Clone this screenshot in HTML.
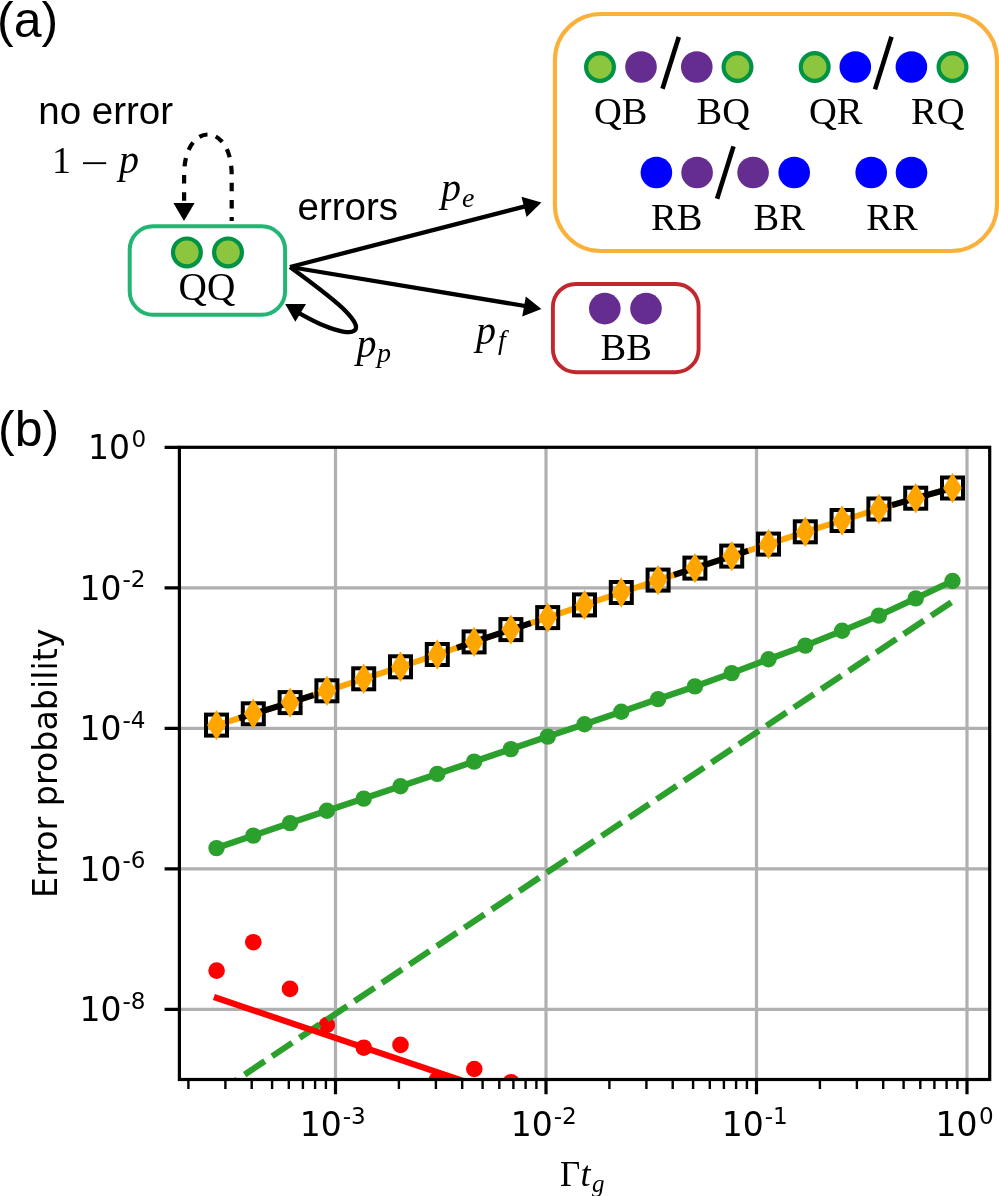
<!DOCTYPE html>
<html lang="en"><head><meta charset="utf-8"><title>Figure</title>
<style>html,body{margin:0;padding:0;background:#fff}svg{display:block}</style>
</head><body>
<svg width="999" height="1196" viewBox="0 0 999 1196">
<rect width="999" height="1196" fill="#fff"/>
<g id="panelA">
<text x="-3" y="37" font-family="Liberation Sans, Arial, sans-serif" font-size="50" fill="#000">(a)</text>
<text x="38.3" y="124.4" font-family="Liberation Sans, Arial, sans-serif" font-size="38.5" fill="#000">no error</text>
<text x="297.5" y="220" font-family="Liberation Sans, Arial, sans-serif" font-size="38.5" fill="#000">errors</text>
<text x="52" y="172.6" font-family="Liberation Serif, serif" font-size="38" fill="#000">1</text>
<text transform="translate(80.4,175.6) scale(1.31,1)" font-family="Liberation Serif, serif" font-size="38" fill="#000">−</text>
<text x="119" y="172.6" font-family="Liberation Serif, serif" font-style="italic" font-size="40" fill="#000">p</text>
<rect x="129.7" y="226.2" width="155.4" height="88.5" rx="23.5" ry="23.5" fill="none" stroke="#22b573" stroke-width="4"/>
<rect x="554.9" y="14.05" width="442.1" height="237" rx="46" ry="46" fill="none" stroke="#fbb03b" stroke-width="4.1"/>
<rect x="552.9" y="284" width="145.7" height="88.2" rx="23" ry="23" fill="none" stroke="#c1272d" stroke-width="3.9"/>
<circle cx="186.9" cy="252.4" r="13.9" fill="#8cc63f" stroke="#009245" stroke-width="4.2"/>
<circle cx="228" cy="252.4" r="13.9" fill="#8cc63f" stroke="#009245" stroke-width="4.2"/>
<text x="178.6" y="300.3" font-family="Liberation Serif, Times New Roman, serif" font-size="39.3" fill="#000">QQ</text>
<circle cx="600" cy="67" r="13.9" fill="#8cc63f" stroke="#009245" stroke-width="4.2"/>
<circle cx="641" cy="67" r="15.8" fill="#662d91"/>
<line x1="662.5" y1="88.8" x2="678.8" y2="37" stroke="#000" stroke-width="4.6"/>
<circle cx="696.8" cy="67" r="15.8" fill="#662d91"/>
<circle cx="737.5" cy="67" r="13.9" fill="#8cc63f" stroke="#009245" stroke-width="4.2"/>
<text x="594" y="124.4" font-family="Liberation Serif, Times New Roman, serif" font-size="38.5" fill="#000">QB</text>
<text x="696.5" y="124.4" font-family="Liberation Serif, Times New Roman, serif" font-size="38.5" fill="#000">BQ</text>
<circle cx="814.7" cy="67" r="13.9" fill="#8cc63f" stroke="#009245" stroke-width="4.2"/>
<circle cx="855.3" cy="67" r="15.8" fill="#0000ff"/>
<line x1="875" y1="89.4" x2="891.5" y2="36.7" stroke="#000" stroke-width="4.6"/>
<circle cx="911.4" cy="67" r="15.8" fill="#0000ff"/>
<circle cx="952.5" cy="67" r="13.9" fill="#8cc63f" stroke="#009245" stroke-width="4.2"/>
<text x="809" y="124.4" font-family="Liberation Serif, Times New Roman, serif" font-size="38.5" fill="#000">QR</text>
<text x="911" y="124.4" font-family="Liberation Serif, Times New Roman, serif" font-size="38.5" fill="#000">RQ</text>
<circle cx="656.4" cy="172.5" r="15.8" fill="#0000ff"/>
<circle cx="697.1" cy="172.5" r="15.8" fill="#662d91"/>
<line x1="717.1" y1="198.7" x2="733.5" y2="146.4" stroke="#000" stroke-width="4.6"/>
<circle cx="753.1" cy="172.5" r="15.8" fill="#662d91"/>
<circle cx="794.2" cy="172.5" r="15.8" fill="#0000ff"/>
<text x="651" y="229.5" font-family="Liberation Serif, Times New Roman, serif" font-size="38.5" fill="#000">RB</text>
<text x="753.5" y="229.5" font-family="Liberation Serif, Times New Roman, serif" font-size="38.5" fill="#000">BR</text>
<circle cx="871.2" cy="172.5" r="15.8" fill="#0000ff"/>
<circle cx="911.5" cy="172.5" r="15.8" fill="#0000ff"/>
<text x="866.3" y="229.5" font-family="Liberation Serif, Times New Roman, serif" font-size="38.5" fill="#000">RR</text>
<circle cx="604.8" cy="308.6" r="15.8" fill="#662d91"/>
<circle cx="646" cy="308.6" r="15.8" fill="#662d91"/>
<text x="600.5" y="360.2" font-family="Liberation Serif, Times New Roman, serif" font-size="38.5" fill="#000">BB</text>
<path d="M231.7,221 L231.7,175 C231.7,121 184.1,121 184.1,175 L184.1,205" fill="none" stroke="#000" stroke-width="4.2" stroke-dasharray="8.5 8.6" stroke-dashoffset="4.5"/>
<polygon points="173.4,202.9 194.6,202.9 184,221" fill="#000"/>
<line x1="290" y1="267" x2="528" y2="205.6" stroke="#000" stroke-width="4.3"/>
<polygon points="541.4,202.6 521.5,196.8 526.6,217" fill="#000"/>
<line x1="290" y1="267" x2="528" y2="306.5" stroke="#000" stroke-width="4.3"/>
<polygon points="541.4,309.1 525.8,296.5 522.2,316.6" fill="#000"/>
<path d="M290,267 C312,283 337.5,302.5 346,311.5 C353.5,319.5 358.5,326.5 354.8,330.3 C350.8,334.3 337,331 325,326 C316,322.5 308,318 299,313" fill="none" stroke="#000" stroke-width="4.3"/>
<polygon points="285.2,304 306,304 295.3,321.7" fill="#000"/>
<text x="441" y="201" font-family="Liberation Serif, serif" font-style="italic" font-size="40" fill="#000">p</text>
<text x="462" y="206.5" font-family="Liberation Serif, serif" font-style="italic" font-size="28" fill="#000">e</text>
<text x="356.5" y="357" font-family="Liberation Serif, serif" font-style="italic" font-size="40" fill="#000">p</text>
<text x="377" y="361.7" font-family="Liberation Serif, serif" font-style="italic" font-size="28" fill="#000">p</text>
<text x="476" y="344.4" font-family="Liberation Serif, serif" font-style="italic" font-size="40" fill="#000">p</text>
<text x="498" y="349" font-family="Liberation Serif, serif" font-style="italic" font-size="28" fill="#000">f</text>
</g>
<g id="panelB">
<text x="-2" y="446" font-family="Liberation Sans, Arial, sans-serif" font-size="50" fill="#000">(b)</text>
<clipPath id="ax"><rect x="179.4" y="447.3" width="810.3000000000001" height="632.2"/></clipPath>
<path d="M335.5,447.3 V1079.5 M546.0,447.3 V1079.5 M756.5,447.3 V1079.5 M967.0,447.3 V1079.5 M179.4,587.9 H989.7 M179.4,728.4 H989.7 M179.4,868.9 H989.7 M179.4,1009.4 H989.7" stroke="#b0b0b0" stroke-width="3.2" fill="none"/>
<g clip-path="url(#ax)">
<polyline points="216.5,725.1 253.3,713.8 290.1,702.6 326.9,690.8 363.7,678.8 400.5,666.8 437.3,654.5 474.1,641.9 510.9,629.6 547.7,617.6 584.5,604.9 621.3,592.5 658.1,580.1 694.9,568.1 731.7,556.1 768.5,544.1 805.3,531.8 842.1,520.5 878.9,509.0 915.7,498.2 952.5,488.0" fill="none" stroke="#ffa500" stroke-width="6"/>
<polyline points="216.5,725.1 253.3,713.8 290.1,702.6 326.9,690.8 363.7,678.8 400.5,666.8 437.3,654.5 474.1,641.9 510.9,629.6 547.7,617.6 584.5,604.9 621.3,592.5 658.1,580.1 694.9,568.1 731.7,556.1 768.5,544.1 805.3,531.8 842.1,520.5 878.9,509.0 915.7,498.2 952.5,488.0" fill="none" stroke="#000" stroke-width="6" stroke-dasharray="78 151" stroke-dashoffset="-23.5"/>
<rect x="206.0" y="714.6" width="21" height="21" fill="none" stroke="#000" stroke-width="4"/>
<rect x="242.8" y="703.3" width="21" height="21" fill="none" stroke="#000" stroke-width="4"/>
<rect x="279.6" y="692.1" width="21" height="21" fill="none" stroke="#000" stroke-width="4"/>
<rect x="316.4" y="680.3" width="21" height="21" fill="none" stroke="#000" stroke-width="4"/>
<rect x="353.2" y="668.3" width="21" height="21" fill="none" stroke="#000" stroke-width="4"/>
<rect x="390.0" y="656.3" width="21" height="21" fill="none" stroke="#000" stroke-width="4"/>
<rect x="426.8" y="644.0" width="21" height="21" fill="none" stroke="#000" stroke-width="4"/>
<rect x="463.6" y="631.4" width="21" height="21" fill="none" stroke="#000" stroke-width="4"/>
<rect x="500.4" y="619.1" width="21" height="21" fill="none" stroke="#000" stroke-width="4"/>
<rect x="537.2" y="607.1" width="21" height="21" fill="none" stroke="#000" stroke-width="4"/>
<rect x="574.0" y="594.4" width="21" height="21" fill="none" stroke="#000" stroke-width="4"/>
<rect x="610.8" y="582.0" width="21" height="21" fill="none" stroke="#000" stroke-width="4"/>
<rect x="647.6" y="569.6" width="21" height="21" fill="none" stroke="#000" stroke-width="4"/>
<rect x="684.4" y="557.6" width="21" height="21" fill="none" stroke="#000" stroke-width="4"/>
<rect x="721.2" y="545.6" width="21" height="21" fill="none" stroke="#000" stroke-width="4"/>
<rect x="758.0" y="533.6" width="21" height="21" fill="none" stroke="#000" stroke-width="4"/>
<rect x="794.8" y="521.3" width="21" height="21" fill="none" stroke="#000" stroke-width="4"/>
<rect x="831.6" y="510.0" width="21" height="21" fill="none" stroke="#000" stroke-width="4"/>
<rect x="868.4" y="498.5" width="21" height="21" fill="none" stroke="#000" stroke-width="4"/>
<rect x="905.2" y="487.7" width="21" height="21" fill="none" stroke="#000" stroke-width="4"/>
<rect x="942.0" y="477.5" width="21" height="21" fill="none" stroke="#000" stroke-width="4"/>
<polygon points="216.5,709.9 225.9,725.1 216.5,740.3 207.1,725.1" fill="#ffa500"/>
<polygon points="253.3,698.6 262.7,713.8 253.3,729.0 243.9,713.8" fill="#ffa500"/>
<polygon points="290.1,687.4 299.5,702.6 290.1,717.8 280.7,702.6" fill="#ffa500"/>
<polygon points="326.9,675.6 336.3,690.8 326.9,706.0 317.5,690.8" fill="#ffa500"/>
<polygon points="363.7,663.6 373.1,678.8 363.7,694.0 354.3,678.8" fill="#ffa500"/>
<polygon points="400.5,651.6 409.9,666.8 400.5,682.0 391.1,666.8" fill="#ffa500"/>
<polygon points="437.3,639.3 446.7,654.5 437.3,669.7 427.9,654.5" fill="#ffa500"/>
<polygon points="474.1,626.7 483.5,641.9 474.1,657.1 464.7,641.9" fill="#ffa500"/>
<polygon points="510.9,614.4 520.3,629.6 510.9,644.8 501.5,629.6" fill="#ffa500"/>
<polygon points="547.7,602.4 557.1,617.6 547.7,632.8 538.3,617.6" fill="#ffa500"/>
<polygon points="584.5,589.7 593.9,604.9 584.5,620.1 575.1,604.9" fill="#ffa500"/>
<polygon points="621.3,577.3 630.7,592.5 621.3,607.7 611.9,592.5" fill="#ffa500"/>
<polygon points="658.1,564.9 667.5,580.1 658.1,595.3 648.7,580.1" fill="#ffa500"/>
<polygon points="694.9,552.9 704.3,568.1 694.9,583.3 685.5,568.1" fill="#ffa500"/>
<polygon points="731.7,540.9 741.1,556.1 731.7,571.3 722.3,556.1" fill="#ffa500"/>
<polygon points="768.5,528.9 777.9,544.1 768.5,559.3 759.1,544.1" fill="#ffa500"/>
<polygon points="805.3,516.6 814.7,531.8 805.3,547.0 795.9,531.8" fill="#ffa500"/>
<polygon points="842.1,505.3 851.5,520.5 842.1,535.7 832.7,520.5" fill="#ffa500"/>
<polygon points="878.9,493.8 888.3,509.0 878.9,524.2 869.5,509.0" fill="#ffa500"/>
<polygon points="915.7,483.0 925.1,498.2 915.7,513.4 906.3,498.2" fill="#ffa500"/>
<polygon points="952.5,472.8 961.9,488.0 952.5,503.2 943.1,488.0" fill="#ffa500"/>
<polyline points="216.5,848.1 253.3,835.6 290.1,823.1 326.9,810.8 363.7,798.6 400.5,786.3 437.3,773.9 474.1,761.6 510.9,749.1 547.7,736.6 584.5,724.3 621.3,711.8 658.1,699.1 694.9,686.4 731.7,673.1 768.5,659.3 805.3,645.6 842.1,630.8 878.9,615.6 915.7,598.4 952.5,581.0" fill="none" stroke="#2ca02c" stroke-width="6.3"/>
<circle cx="216.5" cy="848.1" r="8.2" fill="#2ca02c"/>
<circle cx="253.3" cy="835.6" r="8.2" fill="#2ca02c"/>
<circle cx="290.1" cy="823.1" r="8.2" fill="#2ca02c"/>
<circle cx="326.9" cy="810.8" r="8.2" fill="#2ca02c"/>
<circle cx="363.7" cy="798.6" r="8.2" fill="#2ca02c"/>
<circle cx="400.5" cy="786.3" r="8.2" fill="#2ca02c"/>
<circle cx="437.3" cy="773.9" r="8.2" fill="#2ca02c"/>
<circle cx="474.1" cy="761.6" r="8.2" fill="#2ca02c"/>
<circle cx="510.9" cy="749.1" r="8.2" fill="#2ca02c"/>
<circle cx="547.7" cy="736.6" r="8.2" fill="#2ca02c"/>
<circle cx="584.5" cy="724.3" r="8.2" fill="#2ca02c"/>
<circle cx="621.3" cy="711.8" r="8.2" fill="#2ca02c"/>
<circle cx="658.1" cy="699.1" r="8.2" fill="#2ca02c"/>
<circle cx="694.9" cy="686.4" r="8.2" fill="#2ca02c"/>
<circle cx="731.7" cy="673.1" r="8.2" fill="#2ca02c"/>
<circle cx="768.5" cy="659.3" r="8.2" fill="#2ca02c"/>
<circle cx="805.3" cy="645.6" r="8.2" fill="#2ca02c"/>
<circle cx="842.1" cy="630.8" r="8.2" fill="#2ca02c"/>
<circle cx="878.9" cy="615.6" r="8.2" fill="#2ca02c"/>
<circle cx="915.7" cy="598.4" r="8.2" fill="#2ca02c"/>
<circle cx="952.5" cy="581.0" r="8.2" fill="#2ca02c"/>
<circle cx="216.6" cy="970.6" r="8.3" fill="#ff0000"/>
<circle cx="253.3" cy="942.2" r="8.3" fill="#ff0000"/>
<circle cx="290.0" cy="988.9" r="8.3" fill="#ff0000"/>
<circle cx="326.9" cy="1025.0" r="8.3" fill="#ff0000"/>
<circle cx="363.8" cy="1047.7" r="8.3" fill="#ff0000"/>
<circle cx="400.5" cy="1044.9" r="8.3" fill="#ff0000"/>
<circle cx="436.8" cy="1080.0" r="8.3" fill="#ff0000"/>
<circle cx="474.3" cy="1069.0" r="8.3" fill="#ff0000"/>
<circle cx="511.1" cy="1082.2" r="8.3" fill="#ff0000"/>
<line x1="951.3" y1="602.3" x2="216.5" y2="1093.4" stroke="#2ca02c" stroke-width="6.2" stroke-dasharray="24.2 8.83"/>
<line x1="213.9" y1="997.05" x2="476" y2="1085.25" stroke="#ff0000" stroke-width="6.2"/>
</g>
<path d="M335.5,1079.5 v14.8 M546.0,1079.5 v14.8 M756.5,1079.5 v14.8 M967.0,1079.5 v14.8 M179.4,447.4 h-14.8 M179.4,587.9 h-14.8 M179.4,728.4 h-14.8 M179.4,868.9 h-14.8 M179.4,1009.4 h-14.8" stroke="#000" stroke-width="3.2" fill="none"/>
<path d="M188.4,1079.5 v9.6 M225.4,1079.5 v9.6 M251.7,1079.5 v9.6 M272.1,1079.5 v9.6 M288.8,1079.5 v9.6 M302.9,1079.5 v9.6 M315.1,1079.5 v9.6 M325.9,1079.5 v9.6 M398.9,1079.5 v9.6 M435.9,1079.5 v9.6 M462.2,1079.5 v9.6 M482.6,1079.5 v9.6 M499.3,1079.5 v9.6 M513.4,1079.5 v9.6 M525.6,1079.5 v9.6 M536.4,1079.5 v9.6 M609.4,1079.5 v9.6 M646.4,1079.5 v9.6 M672.7,1079.5 v9.6 M693.1,1079.5 v9.6 M709.8,1079.5 v9.6 M723.9,1079.5 v9.6 M736.1,1079.5 v9.6 M746.9,1079.5 v9.6 M819.9,1079.5 v9.6 M856.9,1079.5 v9.6 M883.2,1079.5 v9.6 M903.6,1079.5 v9.6 M920.3,1079.5 v9.6 M934.4,1079.5 v9.6 M946.6,1079.5 v9.6 M957.4,1079.5 v9.6" stroke="#000" stroke-width="2.4" fill="none"/>
<rect x="179.4" y="447.3" width="810.3000000000001" height="632.2" fill="none" stroke="#000" stroke-width="3.2"/>
<text x="88" y="459.4" font-family="DejaVu Sans, Liberation Sans, sans-serif" font-size="33" fill="#000">10</text>
<text x="131.5" y="447.0" font-family="DejaVu Sans, Liberation Sans, sans-serif" font-size="23.1" fill="#000">0</text>
<text x="79.5" y="599.6" font-family="DejaVu Sans, Liberation Sans, sans-serif" font-size="33" fill="#000">10</text>
<text x="122.5" y="587.2" font-family="DejaVu Sans, Liberation Sans, sans-serif" font-size="23.1" fill="#000">-2</text>
<text x="79.5" y="740.1" font-family="DejaVu Sans, Liberation Sans, sans-serif" font-size="33" fill="#000">10</text>
<text x="122.5" y="727.7" font-family="DejaVu Sans, Liberation Sans, sans-serif" font-size="23.1" fill="#000">-4</text>
<text x="79.5" y="880.6" font-family="DejaVu Sans, Liberation Sans, sans-serif" font-size="33" fill="#000">10</text>
<text x="122.5" y="868.2" font-family="DejaVu Sans, Liberation Sans, sans-serif" font-size="23.1" fill="#000">-6</text>
<text x="79.5" y="1021.1" font-family="DejaVu Sans, Liberation Sans, sans-serif" font-size="33" fill="#000">10</text>
<text x="122.5" y="1008.7" font-family="DejaVu Sans, Liberation Sans, sans-serif" font-size="23.1" fill="#000">-8</text>
<text x="299.7" y="1136" font-family="DejaVu Sans, Liberation Sans, sans-serif" font-size="33" fill="#000">10</text>
<text x="342.7" y="1123.6" font-family="DejaVu Sans, Liberation Sans, sans-serif" font-size="23.1" fill="#000">-3</text>
<text x="510.7" y="1136" font-family="DejaVu Sans, Liberation Sans, sans-serif" font-size="33" fill="#000">10</text>
<text x="553.7" y="1123.6" font-family="DejaVu Sans, Liberation Sans, sans-serif" font-size="23.1" fill="#000">-2</text>
<text x="721.7" y="1136" font-family="DejaVu Sans, Liberation Sans, sans-serif" font-size="33" fill="#000">10</text>
<text x="764.7" y="1123.6" font-family="DejaVu Sans, Liberation Sans, sans-serif" font-size="23.1" fill="#000">-1</text>
<text x="935.5" y="1136" font-family="DejaVu Sans, Liberation Sans, sans-serif" font-size="33" fill="#000">10</text>
<text x="979" y="1123.6" font-family="DejaVu Sans, Liberation Sans, sans-serif" font-size="23.1" fill="#000">0</text>
<text transform="translate(57,763.2) rotate(-90)" text-anchor="middle" font-family="DejaVu Sans, Liberation Sans, sans-serif" font-size="33.3" fill="#000">Error probability</text>
<text x="560" y="1186" font-family="Liberation Serif, serif" font-size="35" fill="#000">Γ</text>
<text x="580.5" y="1186" font-family="Liberation Serif, serif" font-style="italic" font-size="36" fill="#000">t</text>
<text x="592" y="1192" font-family="Liberation Serif, serif" font-style="italic" font-size="25" fill="#000">g</text>
</g>
</svg>
</body></html>
